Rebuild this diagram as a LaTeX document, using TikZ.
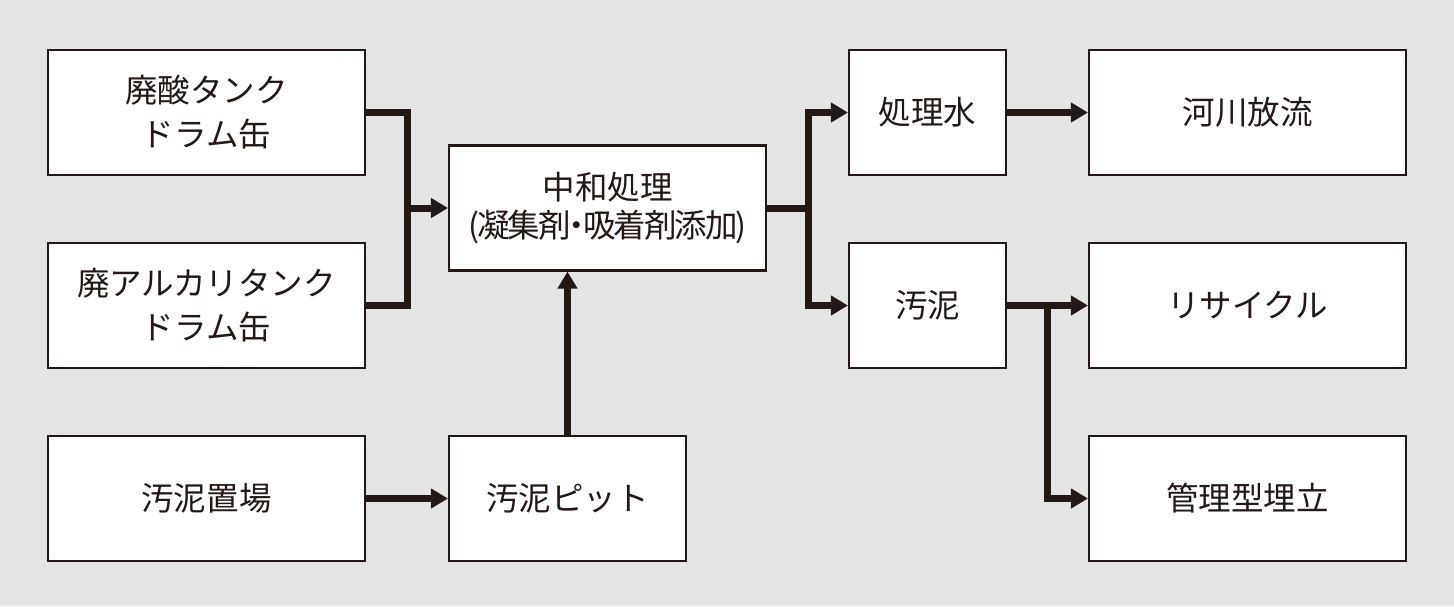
\documentclass[tikz,border=0pt]{standalone}
\usepackage{fontspec}
\setmainfont{Noto Sans CJK JP}
\newfontfamily\tightfont[RawFeature=+palt,LetterSpace=-6]{Noto Sans CJK JP}
\usetikzlibrary{arrows.meta}
\definecolor{bgcol}{RGB}{228,228,228}
\definecolor{inkcol}{RGB}{35,24,21}
\tikzset{
  box/.style={draw=inkcol,line width=1.2pt,fill=white,text=inkcol,align=center,inner sep=0pt,
    minimum height=2.5cm,font=\fontsize{18.5}{22}\selectfont},
  widebox/.style={box,minimum width=6.34cm},
  midbox/.style={box,minimum width=4.74cm},
  narrowbox/.style={box,minimum width=3.14cm},
  link/.style={draw=inkcol,line width=0.14cm},
  flow/.style={link,-{Triangle[length=0.34cm,width=0.38cm]}},
}

\begin{document}
\begin{tikzpicture}[x=0.02cm,y=-0.02cm]
  \fill[bgcol] (0,0) rectangle (1454,606);
  \useasboundingbox (0,0) rectangle (1454,606);
  % sources
  \node[widebox] (haisan) at (206.5,112.5) {廃酸タンク\\[3pt]ドラム缶};
  \node[widebox] (haialk) at (206.5,305.5) {廃アルカリタンク\\[3pt]ドラム缶};
  \node[widebox] (okiba) at (206.5,498.5) {汚泥置場};
  % treatment
  \node[widebox] (chuwa) at (607.5,208) {中和処理\\{\tightfont (凝集剤・吸着剤添加)}};
  \node[midbox] (pit) at (567.5,498.5) {汚泥ピット};
  \node[narrowbox] (shorisui) at (927.5,112.5) {処理水};
  \node[narrowbox] (odei) at (927.5,305.5) {汚泥};
  % destinations
  \node[widebox] (kasen) at (1247.5,112.5) {河川放流};
  \node[widebox] (recycle) at (1247.5,305.5) {リサイクル};
  \node[widebox] (umetate) at (1247.5,498.5) {管理型埋立};
  % junctions
  \coordinate (jleft) at (407,208);
  \coordinate (jmid) at (808,208);
  \coordinate (jright) at (1047,305.5);
  % connectors
  \draw[link] (haisan.east) -| (jleft);
  \draw[link] (haialk.east) -| (jleft);
  \draw[flow] (jleft) -- (chuwa.west);
  \draw[flow] (okiba) -- (pit);
  \draw[flow] (pit.north) -- (pit.north |- chuwa.south);
  \draw[link] (chuwa.east) -- (jmid);
  \draw[flow] (jmid) |- (shorisui.west);
  \draw[flow] (jmid) |- (odei.west);
  \draw[flow] (shorisui) -- (kasen);
  \draw[flow] (odei) -- (recycle);
  \draw[flow] (jright) |- (umetate.west);
\end{tikzpicture}
\end{document}
